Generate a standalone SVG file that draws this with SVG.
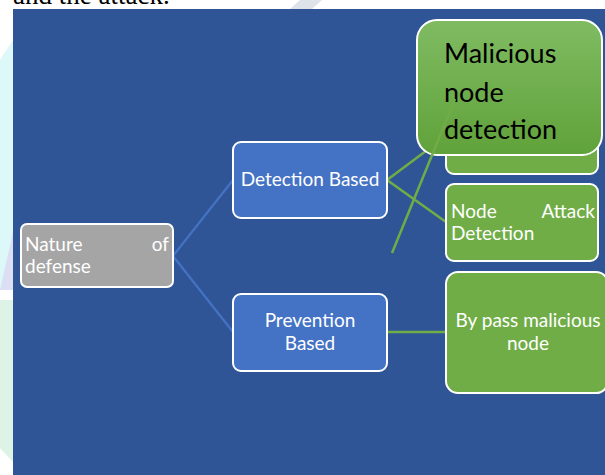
<svg xmlns="http://www.w3.org/2000/svg" width="605" height="475" viewBox="0 0 605 475">
  <defs>
    <linearGradient id="gMal" x1="0" y1="0" x2="0" y2="1">
      <stop offset="0" stop-color="#80BB62"/>
      <stop offset="1" stop-color="#60A23A"/>
    </linearGradient>
    <style>
      .box { stroke: #FFFFFF; stroke-width: 2; }
      .gray { fill: #A5A5A5; }
      .blue { fill: #4472C4; }
      .green { fill: #70AD47; }
      .t { font-family: Lato, "Open Sans", "Liberation Sans", sans-serif; font-size: 19px; fill: #FFFFFF; }
      .big { font-family: Lato, "Open Sans", "Liberation Sans", sans-serif; font-size: 27px; fill: #000000; }
      .cb { stroke: #4472C4; stroke-width: 2.2; fill: none; }
      .cg { stroke: #70AD47; stroke-width: 2.5; fill: none; }
    </style>
  </defs>
  <!-- page background with faint watermark -->
  <rect x="0" y="0" width="605" height="475" fill="#FFFFFF"/>
  <polygon points="0,60 13,40 13,290 0,290" fill="#DDF8F8"/>
  <polygon points="0,290 13,232 13,290" fill="#DCDFF3"/>
  <polygon points="0,300 13,300 13,462 0,448" fill="#DDF3E6"/>
  <polygon points="290,9 300,0 322,0 312,9" fill="#DDE3E8"/>
  <text x="13" y="4" font-family="'Liberation Serif', serif" font-size="27" fill="#000000">and the attack.</text>
  <!-- blue panel -->
  <rect x="13" y="9" width="592" height="466" fill="#2F5597"/>

  <!-- connectors -->
  <g id="connectors">
    <line class="cb" x1="173" y1="256" x2="233" y2="180"/>
    <line class="cb" x1="173" y1="256" x2="233" y2="332"/>
    <line class="cg" x1="387" y1="180" x2="446" y2="136"/>
    <line class="cg" x1="387" y1="180" x2="446" y2="222"/>
    <line class="cg" x1="387" y1="332" x2="446" y2="332"/>
  </g>

  <g id="nature">
    <rect class="box gray" x="21" y="224" width="152" height="63" rx="6"/>
    <text class="t" x="25" y="251">Nature</text>
    <text class="t" x="169" y="251" text-anchor="end">of</text>
    <text class="t" x="25" y="273">defense</text>
  </g>

  <g id="detection">
    <rect class="box blue" x="233" y="142" width="154" height="76" rx="8"/>
    <text class="t" x="310" y="186" text-anchor="middle">Detection Based</text>
  </g>

  <g id="prevention">
    <rect class="box blue" x="233" y="294" width="154" height="77" rx="8"/>
    <text class="t" x="310" y="327" text-anchor="middle">Prevention</text>
    <text class="t" x="310" y="350" text-anchor="middle">Based</text>
  </g>

  <g id="hidden-box">
    <rect class="box green" x="446" y="97" width="152" height="77" rx="8"/>
  </g>

  <g id="node-attack">
    <rect class="box green" x="446" y="184" width="152" height="77" rx="8"/>
    <text class="t" x="451" y="218">Node</text>
    <text class="t" x="595" y="218" text-anchor="end">Attack</text>
    <text class="t" x="451" y="240">Detection</text>
  </g>

  <g id="bypass">
    <rect class="box green" x="446" y="272" width="162" height="121" rx="12"/>
    <text class="t" x="528" y="327" text-anchor="middle">By pass malicious</text>
    <text class="t" x="528" y="350" text-anchor="middle">node</text>
  </g>

  <g id="malicious">
    <rect class="box" fill="url(#gMal)" x="417" y="20" width="185" height="135" rx="20"/>
    <text class="big" x="444" y="63">Malicious</text>
    <text class="big" x="444" y="102">node</text>
    <text class="big" x="444" y="139">detection</text>
  </g>

  <g id="stray-connector">
    <line class="cg" x1="392" y1="253" x2="455" y2="99"/>
  </g>
</svg>
